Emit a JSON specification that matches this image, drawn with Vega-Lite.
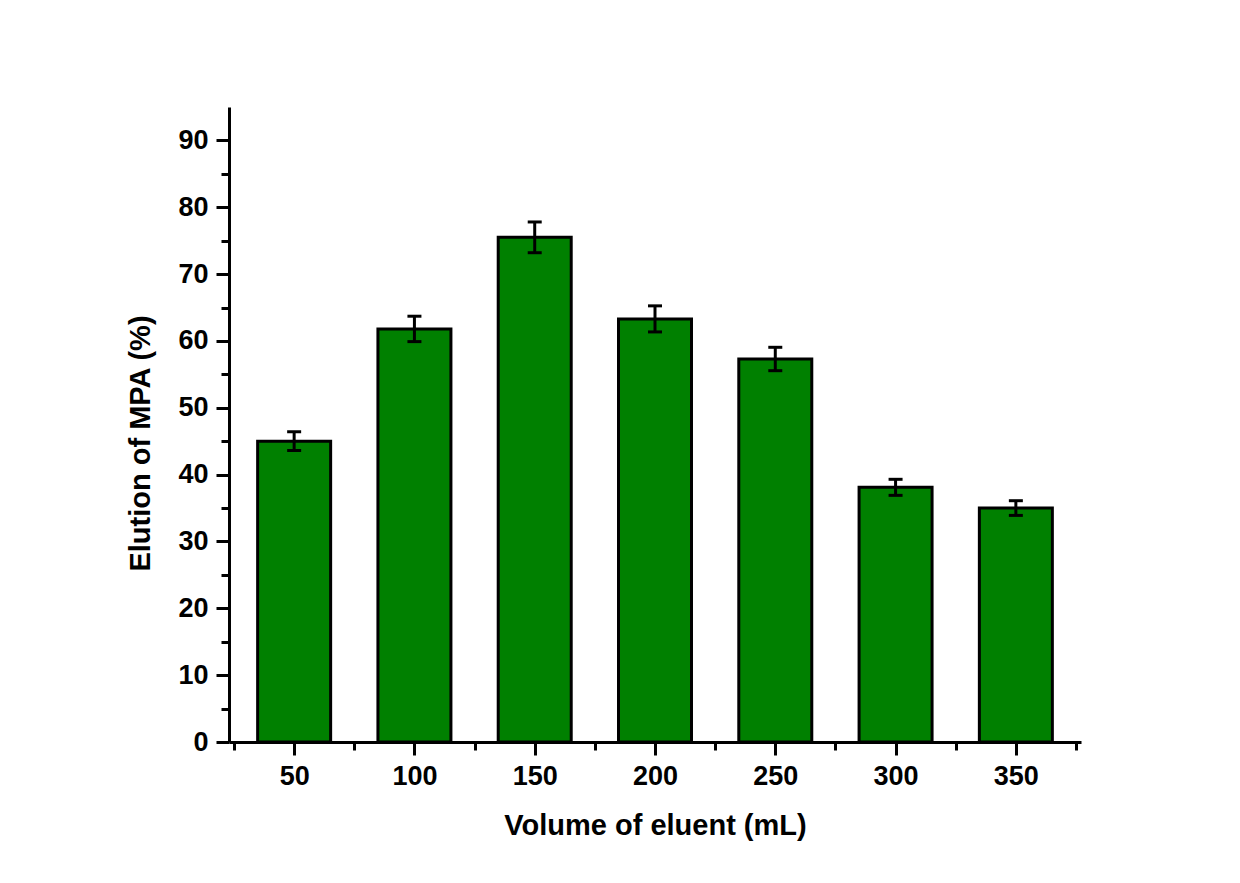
{
  "$schema": "https://vega.github.io/schema/vega-lite/v6.json",
  "width": 852,
  "height": 635,
  "autosize": {"type": "none"},
  "padding": {"left": 229, "top": 107, "right": 159, "bottom": 141},
  "background": "white",
  "config": {
    "view": {"stroke": null},
    "font": "Liberation Sans",
    "axis": {
      "domainColor": "black", "domainWidth": 3, "tickColor": "black", "tickWidth": 3,
      "labelFont": "Liberation Sans", "labelFontWeight": "bold", "labelFontSize": 27, "labelColor": "black",
      "titleFont": "Liberation Sans", "titleFontWeight": "bold", "titleFontSize": 29, "titleColor": "black",
      "grid": false
    }
  },
  "data": {"values": [
    {"volume": 50, "elution": 45.0, "err": 1.4},
    {"volume": 100, "elution": 61.8, "err": 1.9},
    {"volume": 150, "elution": 75.5, "err": 2.3},
    {"volume": 200, "elution": 63.3, "err": 1.95},
    {"volume": 250, "elution": 57.3, "err": 1.75},
    {"volume": 300, "elution": 38.1, "err": 1.2},
    {"volume": 350, "elution": 35.0, "err": 1.1}
  ]},
  "layer": [
    {
      "mark": {"type": "bar", "fill": "#008000", "stroke": "black", "strokeWidth": 3, "size": 73},
      "encoding": {
        "x": {"field": "volume", "type": "quantitative", "scale": {"domain": [25, 375], "nice": false, "zero": false},
          "axis": {"title": "Volume of eluent (mL)", "values": [50, 100, 150, 200, 250, 300, 350], "tickSize": 13, "labelPadding": 8, "titlePadding": 22, "orient": "bottom"}},
        "y": {"field": "elution", "type": "quantitative", "scale": {"domain": [0, 95], "nice": false},
          "axis": {"title": "Elution of MPA (%)", "values": [0, 10, 20, 30, 40, 50, 60, 70, 80, 90], "tickSize": 13, "labelPadding": 8, "titlePadding": 22, "titleY": 336, "orient": "left"}}
      }
    },
    {
      "mark": {"type": "errorbar", "ticks": {"size": 14, "thickness": 3, "color": "black", "opacity": 1}, "rule": {"strokeWidth": 3, "color": "black", "opacity": 1}},
      "encoding": {
        "x": {"field": "volume", "type": "quantitative", "scale": {"domain": [25, 375], "nice": false, "zero": false},
          "axis": {"title": null, "values": [25, 75, 125, 175, 225, 275, 325, 375], "tickSize": 8, "labels": false, "domain": false, "orient": "bottom"}},
        "y": {"field": "elution", "type": "quantitative", "scale": {"domain": [0, 95], "nice": false},
          "axis": {"title": null, "values": [5, 15, 25, 35, 45, 55, 65, 75, 85], "tickSize": 8, "labels": false, "domain": false, "orient": "left"}},
        "yError": {"field": "err"}
      }
    }
  ],
  "resolve": {"axis": {"x": "independent", "y": "independent"}}
}
